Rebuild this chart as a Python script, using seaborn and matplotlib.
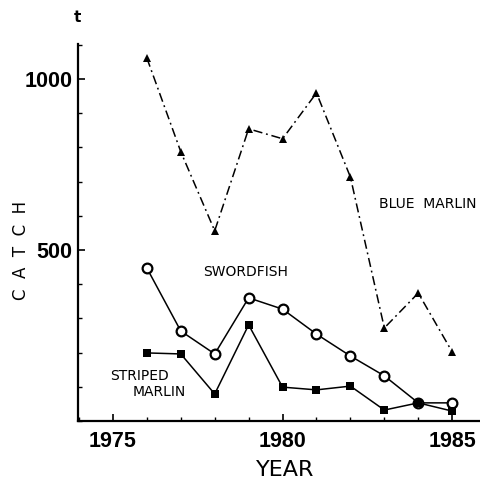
import matplotlib
matplotlib.use("Agg")
import matplotlib.pyplot as plt
from matplotlib.ticker import MultipleLocator, FixedLocator
import seaborn as sns
import pandas as pd

years = [1976, 1977, 1978, 1979, 1980, 1981, 1982, 1983, 1984, 1985]
blue_marlin = [1061, 787, 556, 854, 825, 959, 713, 272, 374, 202]
swordfish = [447, 263, 196, 360, 327, 254, 190, 132, 53, 53]
striped_marlin = [199, 196, 79, 281, 99, 91, 102, 32, 53, 29]
x_ticks = [1975, 1980, 1985]
y_ticks = [500, 1000]

sns.set_style("ticks")
plt.rcParams['font.family'] = ['DejaVu Sans']
plt.rcParams['text.color'] = 'black'
plt.rcParams['xtick.color'] = 'black'
plt.rcParams['ytick.color'] = 'black'
plt.rcParams['xtick.labelcolor'] = 'black'
plt.rcParams['ytick.labelcolor'] = 'black'

df = pd.DataFrame({"year": years, "blue": blue_marlin,
                   "sword": swordfish, "striped": striped_marlin})

fig = plt.figure(figsize=(4.8, 4.87), dpi=100)
ax = fig.add_axes([78/480, 1-421/487, 402/480, 377/487])

sns.lineplot(data=df, x="year", y="blue", ax=ax, color="black", lw=1.1,
             marker="^", markersize=6, markeredgewidth=0, markerfacecolor="black",
             dashes=False)
ax.lines[-1].set_dashes([6, 2.5, 1.2, 2.5])
sns.lineplot(data=df, x="year", y="sword", ax=ax, color="black", lw=1.1,
             marker="o", markersize=7, markeredgewidth=1.6,
             markerfacecolor="white", markeredgecolor="black")
sns.lineplot(data=df, x="year", y="striped", ax=ax, color="black", lw=1.1,
             marker="s", markersize=5.5, markeredgewidth=0, markerfacecolor="black")

ax.set_xlim(1973.97, 1985.82)
ax.set_ylim(0, 1102)
ax.set_xlabel("")
ax.set_ylabel("")
sns.despine(ax=ax)
for s in ["left", "bottom"]:
    ax.spines[s].set_linewidth(1.6)
    ax.spines[s].set_color("black")

ax.xaxis.set_major_locator(FixedLocator(x_ticks))
ax.xaxis.set_minor_locator(MultipleLocator(1))
ax.yaxis.set_major_locator(FixedLocator(y_ticks))
ax.yaxis.set_minor_locator(MultipleLocator(100))
ax.tick_params(axis="both", which="major", direction="in", length=5, width=1.2, color="black")
ax.tick_params(axis="both", which="minor", direction="in", length=3, width=1.0, color="black")
ax.tick_params(axis="x", which="major", pad=7)
ax.tick_params(axis="y", which="major", pad=4)

for lab in ax.get_xticklabels() + ax.get_yticklabels():
    lab.set_fontfamily(["Liberation Sans", "DejaVu Sans"])
    lab.set_fontweight("bold")
    lab.set_fontsize(15.5)
    lab.set_color("black")

fig.text(285/480, 1-470/487, "YEAR", ha="center", va="center", fontsize=16, color="black")
fig.text(21/480, 1-250/487, "C  A  T  C  H", ha="center", va="center",
         rotation=90, fontsize=12, color="black")
fig.text(77/480, 1-17/487, "t", ha="center", va="center", fontsize=11,
         fontweight="bold", color="black")

ann = dict(ha="center", va="center", fontsize=10, color="black")
ax.text(1978.92, 436, "SWORDFISH", **ann)
ax.text(1975.77, 132, "STRIPED", **ann)
ax.text(1976.37, 85, "MARLIN", **ann)
ax.text(1984.28, 634, "BLUE  MARLIN", **ann)

fig.savefig("out.png", dpi=100)
